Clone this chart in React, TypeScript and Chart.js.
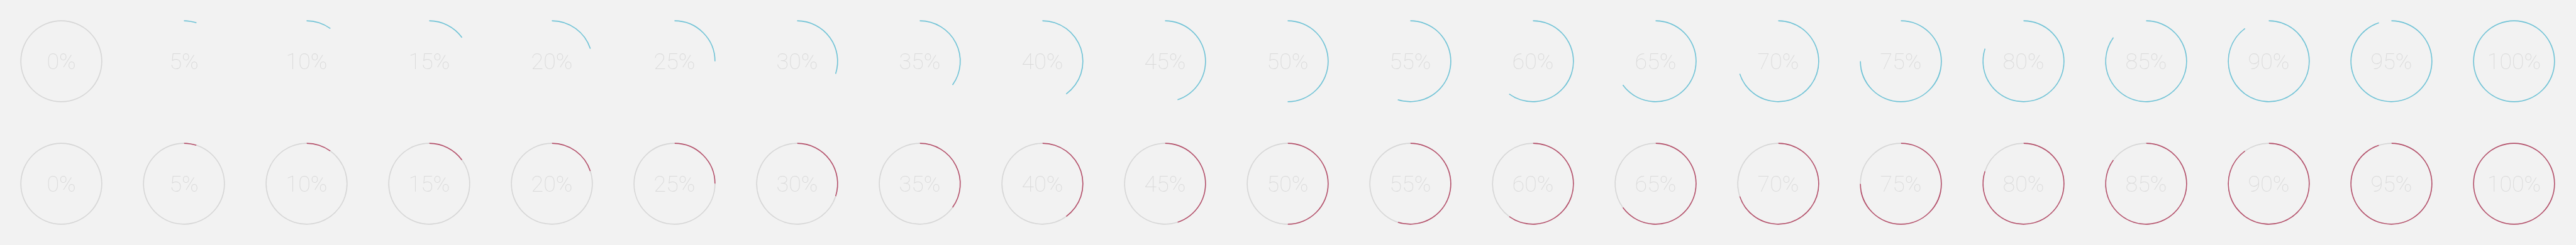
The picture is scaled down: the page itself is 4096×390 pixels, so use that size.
import React, { useEffect, useRef } from "react";
import { Chart, registerables } from "chart.js";

Chart.register(...registerables);

// ---- data ----
const percentages: number[] = [0, 5, 10, 15, 20, 25, 30, 35, 40, 45, 50, 55, 60, 65, 70, 75, 80, 85, 90, 95, 100];
const rowArcColors: string[] = ["#70c3d6", "#b3506a"];
const rowTrackColors: string[] = ["rgba(0,0,0,0)", "#d6d6d6"];
const emptyTrackColor = "#d6d6d6";
const labelColor = "#d9d9d9";
const pageBackground = "#f2f2f2";

// ---- layout (reference scaled by 0.65) ----
const S = 0.65;
const CELL = 300 * S;
const RING_R = 99 * S;
const RING_W = 2.5 * S;
const OUTER = RING_R + RING_W / 2;
const INNER = RING_R - RING_W / 2;
const PAD = CELL / 2 - OUTER;
const FONT_PX = 55 * S;
const BASELINE_OFFSET = 19.5 * S;

const centerLabel = {
  id: "centerLabel",
  afterDraw(chart: any, _args: any, opts: any) {
    const { ctx, chartArea } = chart;
    const cx = (chartArea.left + chartArea.right) / 2;
    const cy = (chartArea.top + chartArea.bottom) / 2;
    ctx.save();
    ctx.font = `100 ${FONT_PX}px Roboto, "DejaVu Sans", sans-serif`;
    ctx.fillStyle = labelColor;
    ctx.textAlign = "center";
    ctx.textBaseline = "alphabetic";
    ctx.fillText(opts.text, cx, cy + BASELINE_OFFSET);
    ctx.restore();
  },
};

function Gauge({ value, row }: { value: number; row: number }) {
  const ref = useRef<HTMLCanvasElement>(null);
  useEffect(() => {
    if (!ref.current) return;
    const track = value === 0 ? emptyTrackColor : rowTrackColors[row];
    const chart = new Chart(ref.current, {
      type: "doughnut",
      data: {
        labels: ["done", "rest"],
        datasets: [
          {
            data: [value, 100 - value],
            backgroundColor: [rowArcColors[row], track],
            borderWidth: 0,
            hoverOffset: 0,
          },
        ],
      },
      options: {
        responsive: false,
        animation: false,
        events: [],
        cutout: INNER,
        radius: OUTER,
        layout: { padding: PAD },
        plugins: {
          legend: { display: false },
          tooltip: { enabled: false },
          centerLabel: { text: `${value}%` },
        } as any,
      },
      plugins: [centerLabel],
    });
    return () => chart.destroy();
  }, [value, row]);
  return (
    <div style={{ width: CELL, height: CELL, flex: "0 0 auto" }}>
      <canvas ref={ref} width={CELL} height={CELL} style={{ display: "block", width: CELL, height: CELL }} />
    </div>
  );
}

export default function App() {
  useEffect(() => {
    document.body.style.margin = "0";
    document.body.style.background = pageBackground;
  }, []);
  return (
    <div style={{ width: 4096, height: 390, background: pageBackground, overflow: "hidden" }}>
      {[0, 1].map((row) => (
        <div key={row} style={{ display: "flex", height: CELL }}>
          {percentages.map((p) => (
            <Gauge key={p} value={p} row={row} />
          ))}
        </div>
      ))}
    </div>
  );
}
